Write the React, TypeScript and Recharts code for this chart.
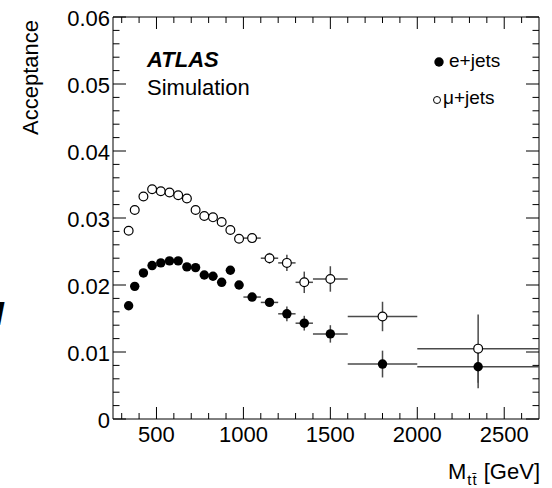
import { ScatterChart, Scatter, XAxis, YAxis, ErrorBar, ReferenceLine } from 'recharts';

// bin centres and half widths in M_tt [GeV]
const massBins = [340, 375, 425, 475, 525, 575, 625, 675, 725, 775, 825, 875, 925, 975, 1050, 1150, 1250, 1350, 1500, 1800, 2350];
const binHalfWidths = [15, 25, 25, 25, 25, 25, 25, 25, 25, 25, 25, 25, 25, 25, 50, 50, 50, 50, 100, 200, 350];

const eJetsAcc = [0.0169, 0.0198, 0.0218, 0.0229, 0.0233, 0.0236, 0.0236, 0.0227, 0.0226, 0.0215, 0.0213, 0.0204, 0.0222, 0.02, 0.0182, 0.0174, 0.0157, 0.0143, 0.0127, 0.0082, 0.0078];
const eJetsErr = [0.0003, 0.0003, 0.0003, 0.0003, 0.0003, 0.0003, 0.0003, 0.0003, 0.0003, 0.0003, 0.0003, 0.0003, 0.0003, 0.0003, 0.0004, 0.0006, 0.0011, 0.0011, 0.0013, 0.002, 0.0032];

const muJetsAcc = [0.0281, 0.0312, 0.0332, 0.0343, 0.034, 0.0338, 0.0334, 0.0329, 0.0312, 0.0303, 0.0301, 0.0294, 0.0282, 0.0269, 0.027, 0.024, 0.0233, 0.0204, 0.0209, 0.0153, 0.0105];
const muJetsErr = [0.0003, 0.0003, 0.0003, 0.0003, 0.0003, 0.0003, 0.0003, 0.0003, 0.0003, 0.0003, 0.0003, 0.0003, 0.0003, 0.0003, 0.0004, 0.0008, 0.0012, 0.0016, 0.0019, 0.0022, 0.0051];

const xTicks = [300, 400, 500, 600, 700, 800, 900, 1000, 1100, 1200, 1300, 1400, 1500, 1600, 1700, 1800, 1900, 2000, 2100, 2200, 2300, 2400, 2500, 2600];
const yTicks = Array.from({ length: 31 }, (_, i) => i * 0.002);

const W = 552;
const H = 488;
const PLOT_LEFT = 113;
const PLOT_RIGHT = 539;
const PLOT_TOP = 17;
const PLOT_BOTTOM = 419;
const FONT = '"Liberation Sans", Arial, Helvetica, sans-serif';

const eData = massBins.map((m, i) => ({ m, acc: eJetsAcc[i], xErr: binHalfWidths[i], yErr: eJetsErr[i] }));
const muData = massBins.map((m, i) => ({ m, acc: muJetsAcc[i], xErr: binHalfWidths[i], yErr: muJetsErr[i] }));

const XTick = (props: any) => {
	const { x, y, payload } = props;
	const v = payload.value;
	const major = v % 500 === 0;
	const len = major ? 12 : 6;
	return (
		<g>
			<line x1={x} x2={x} y1={y} y2={y - len} stroke="#000" />
			<line x1={x} x2={x} y1={PLOT_TOP} y2={PLOT_TOP + len} stroke="#000" />
			{major && (
				<text x={x} y={y + 23} textAnchor="middle" fontSize={22} fontFamily={FONT} fill="#000">
					{v}
				</text>
			)}
		</g>
	);
};

const YTick = (props: any) => {
	const { x, y, payload, index } = props;
	const major = index % 5 === 0;
	const len = major ? 13 : 6.5;
	const label = index === 0 ? '0' : (payload.value as number).toFixed(2);
	return (
		<g>
			<line x1={x} x2={x + len} y1={y} y2={y} stroke="#000" />
			<line x1={PLOT_RIGHT} x2={PLOT_RIGHT - len} y1={y} y2={y} stroke="#000" />
			{major && (
				<text x={x - 3} y={y + 9} textAnchor="end" fontSize={22} fontFamily={FONT} fill="#000">
					{label}
				</text>
			)}
		</g>
	);
};

const closedDot = (p: any) => <circle cx={p.cx} cy={p.cy} r={4.7} fill="#000" />;
const openDot = (p: any) => <circle cx={p.cx} cy={p.cy} r={4.4} fill="#fff" stroke="#000" strokeWidth={1.2} />;

export default function App() {
	return (
		<div style={{ position: 'absolute', left: 0, top: 0, width: W, height: H, background: '#fff' }}>
			<ScatterChart width={W} height={H} margin={{ top: PLOT_TOP, right: W - PLOT_RIGHT, left: 0, bottom: 0 }}>
				<XAxis
					type="number"
					dataKey="m"
					domain={[250, 2700]}
					ticks={xTicks}
					interval={0}
					allowDataOverflow
					height={H - PLOT_BOTTOM}
					tickSize={0}
					tickMargin={0}
					tickLine={false}
					axisLine={{ stroke: '#000' }}
					tick={XTick}
				/>
				<YAxis
					type="number"
					dataKey="acc"
					domain={[0, 0.06]}
					ticks={yTicks}
					interval={0}
					allowDataOverflow
					width={PLOT_LEFT}
					tickSize={0}
					tickMargin={0}
					tickLine={false}
					axisLine={{ stroke: '#000' }}
					tick={YTick}
				/>
				<ReferenceLine y={0.06} stroke="#000" />
				<ReferenceLine x={2700} stroke="#000" />
				<Scatter data={eData} shape={closedDot} isAnimationActive={false}>
					<ErrorBar dataKey="xErr" direction="x" width={0} stroke="#4a4a4a" strokeWidth={1.5} />
					<ErrorBar dataKey="yErr" direction="y" width={0} stroke="#4a4a4a" strokeWidth={1.5} />
				</Scatter>
				<Scatter data={muData} shape={openDot} isAnimationActive={false}>
					<ErrorBar dataKey="xErr" direction="x" width={0} stroke="#4a4a4a" strokeWidth={1.5} />
					<ErrorBar dataKey="yErr" direction="y" width={0} stroke="#4a4a4a" strokeWidth={1.5} />
				</Scatter>
			</ScatterChart>
			<svg width={W} height={H} style={{ position: 'absolute', left: 0, top: 0, pointerEvents: 'none' }} fontFamily={FONT}>
				<text transform="translate(38,20) rotate(-90)" textAnchor="end" fontSize={22} fill="#000">
					Acceptance
				</text>
				<text x={540} y={479} textAnchor="end" fontSize={22} fill="#000">
					M<tspan fontSize={15} dy={6} dx={1} letterSpacing={1}>tt̄</tspan>
					<tspan dy={-6}> [GeV]</tspan>
				</text>
				<text x={147} y={67} fontSize={22} fontWeight="bold" fontStyle="italic" fill="#000">
					ATLAS
				</text>
				<text x={147} y={95} fontSize={22} fill="#000">
					Simulation
				</text>
				<circle cx={439} cy={62} r={4.7} fill="#000" />
				<text x={449} y={67} fontSize={19} fill="#000">
					e+jets
				</text>
				<circle cx={437} cy={100} r={3.5} fill="#fff" stroke="#000" strokeWidth={1} />
				<text x={443} y={104} fontSize={19} fill="#000">
					μ+jets
				</text>
				<text x={-5.5} y={325} fontSize={34} fontWeight="bold" fontStyle="italic" fill="#000">
					I
				</text>
			</svg>
		</div>
	);
}
